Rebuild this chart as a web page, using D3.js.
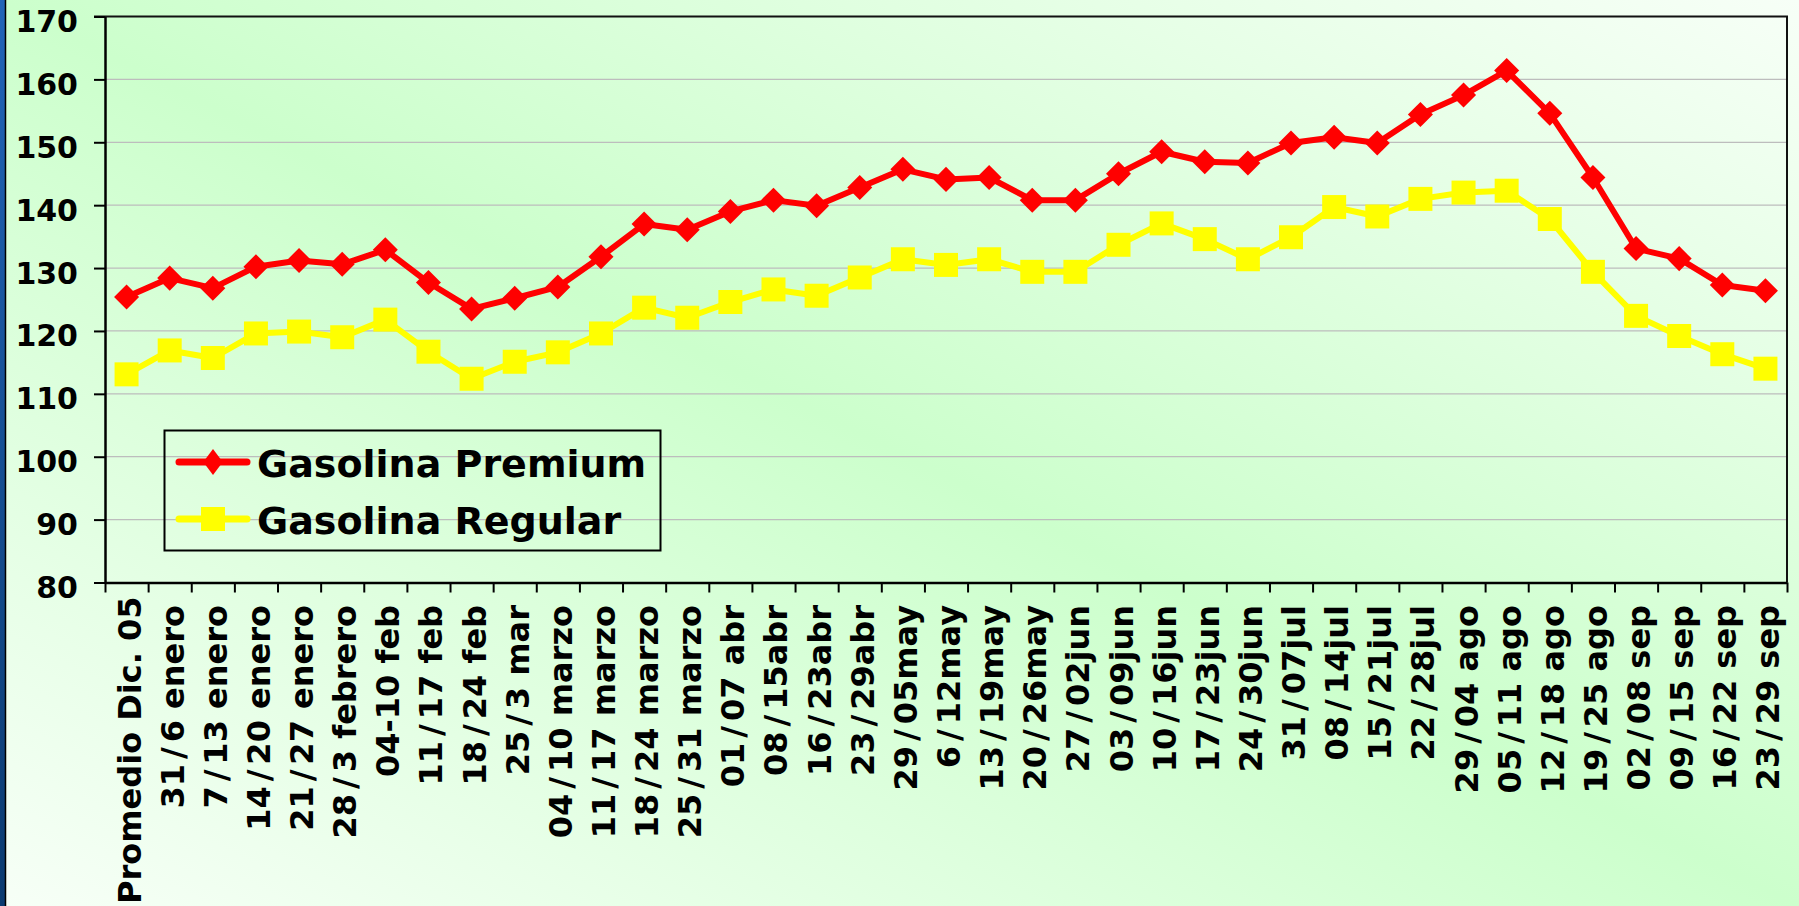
<!DOCTYPE html>
<html>
<head>
<meta charset="utf-8">
<script src="https://cdn.jsdelivr.net/npm/d3@7"></script>
<style>
body { margin: 0; background: #fff; overflow: hidden; }
svg text { font-family: "DejaVu Sans", Verdana, sans-serif; font-weight: bold; fill: #000; }
</style>
</head>
<body>
<div id="chart"></div>
<script>
// ---------- data ----------
var weeks = ["Promedio Dic. 05", "31/6 enero", "7/13 enero", "14/20 enero", "21/27 enero",
    "28/3 febrero", "04-10 feb", "11/17 feb", "18/24 feb", "25/3 mar", "04/10 marzo",
    "11/17 marzo", "18/24 marzo", "25/31 marzo", "01/07 abr", "08/15abr", "16/23abr",
    "23/29abr", "29/05may", "6/12may", "13/19may", "20/26may", "27/02jun", "03/09jun",
    "10/16jun", "17/23jun", "24/30jun", "31/07jul", "08/14jul", "15/21jul", "22/28jul",
    "29/04 ago", "05/11 ago", "12/18 ago", "19/25 ago", "02/08 sep", "09/15 sep",
    "16/22 sep", "23/29 sep"];

var premium = [125.4, 128.4, 126.8, 130.2, 131.2, 130.6, 132.9, 127.7, 123.5, 125.2,
    127.0, 131.8, 137.0, 136.1, 139.0, 140.8, 139.9, 142.8, 145.7, 144.1, 144.4, 140.8,
    140.8, 145.0, 148.5, 146.9, 146.7, 149.9, 150.8, 149.9, 154.4, 157.5, 161.4, 154.6,
    144.4, 133.1, 131.5, 127.3, 126.4];

var regular = [113.1, 116.9, 115.7, 119.6, 119.9, 119.0, 121.8, 116.7, 112.4, 115.1,
    116.6, 119.6, 123.7, 122.1, 124.6, 126.6, 125.6, 128.5, 131.4, 130.5, 131.4, 129.4,
    129.4, 133.7, 137.1, 134.6, 131.4, 134.9, 139.7, 138.2, 141.0, 142.0, 142.3, 137.8,
    129.4, 122.4, 119.2, 116.3, 114.0];

var yTicks = [80, 90, 100, 110, 120, 130, 140, 150, 160, 170];
var seriesNames = ["Gasolina Premium", "Gasolina Regular"];

// ---------- layout ----------
var width = 1799,
    height = 906,
    margin = {top: 16.5, right: 12, bottom: 323.5, left: 105};

var svg = d3.select("#chart").append("svg")
    .attr("width", width)
    .attr("height", height);

var defs = svg.append("defs");

// green / white diagonal background
var bg = defs.append("linearGradient")
    .attr("id", "bg")
    .attr("x1", 0).attr("y1", 1).attr("x2", 1).attr("y2", 0);
bg.append("stop").attr("offset", 0).attr("stop-color", "#f7fff7");
bg.append("stop").attr("offset", 0.5).attr("stop-color", "#ccffcc");
bg.append("stop").attr("offset", 1).attr("stop-color", "#f7fff7");

var strip = defs.append("linearGradient")
    .attr("id", "strip")
    .attr("x1", 0).attr("y1", 0).attr("x2", 0).attr("y2", 1);
strip.append("stop").attr("offset", 0).attr("stop-color", "#2164b8");
strip.append("stop").attr("offset", 1).attr("stop-color", "#0b3a70");

svg.append("rect")
    .attr("width", width)
    .attr("height", height)
    .style("fill", "url(#bg)");

// blue edge on the left
svg.append("rect")
    .attr("x", 0).attr("y", 0)
    .attr("width", 5).attr("height", height)
    .style("fill", "url(#strip)");
svg.append("line")
    .attr("x1", 5.5).attr("x2", 5.5)
    .attr("y1", 0).attr("y2", height)
    .style("stroke", "#000")
    .style("stroke-width", 1.5);

var x = d3.scaleBand()
    .domain(weeks)
    .range([margin.left, width - margin.right])
    .padding(0);

var y = d3.scaleLinear()
    .domain([80, 170])
    .range([height - margin.bottom, margin.top]);

// tick positions between categories
var xEdges = d3.scaleLinear()
    .domain([0, weeks.length])
    .range(x.range());

// gridlines
svg.append("g")
    .selectAll("line")
    .data(yTicks.slice(1, -1))
    .enter()
    .append("line")
    .attr("x1", margin.left)
    .attr("x2", width - margin.right)
    .attr("y1", function(d) { return y(d); })
    .attr("y2", function(d) { return y(d); })
    .style("stroke", "#bdbdbd")
    .style("stroke-width", 1.3);

// frame top + right
svg.append("path")
    .attr("d", "M" + (margin.left - 11) + "," + y(170) + "H" + (width - margin.right) + "V" + y(80))
    .style("fill", "none")
    .style("stroke", "#111")
    .style("stroke-width", 2);

// y axis
var yAxis = svg.append("g")
    .attr("transform", "translate(" + margin.left + ",0)")
    .call(d3.axisLeft(y).tickValues(yTicks).tickSize(11).tickSizeOuter(0).tickPadding(16));
yAxis.select(".domain").style("stroke", "#000").style("stroke-width", 2.5);
yAxis.selectAll(".tick line").style("stroke", "#000").style("stroke-width", 2);
yAxis.selectAll("text")
    .attr("dy", "0.5em")
    .style("font-size", "30px")
    .style("font-family", "'DejaVu Sans', Verdana, sans-serif")
    .style("font-weight", "bold")
    .style("fill", "#000");

// x axis ticks on the category edges
var xTicks = svg.append("g")
    .attr("transform", "translate(0," + y(80) + ")")
    .call(d3.axisBottom(xEdges).tickValues(d3.range(weeks.length + 1)).tickSize(10).tickSizeOuter(0).tickFormat(""));
xTicks.select(".domain").style("stroke", "#000").style("stroke-width", 2.5);
xTicks.selectAll(".tick line").style("stroke", "#000").style("stroke-width", 2);

// x axis labels, rotated
var labelTop = 605;
var xAxis = svg.append("g")
    .attr("transform", "translate(0," + y(80) + ")")
    .call(d3.axisBottom(x).tickSize(0).tickPadding(0));
xAxis.select(".domain").remove();
xAxis.selectAll("text")
    .attr("transform", "rotate(-90)")
    .attr("x", -(labelTop - y(80)))
    .attr("y", 14)
    .attr("dy", 0)
    .style("text-anchor", "end")
    .style("font-size", "32px")
    .style("font-family", "'DejaVu Sans', Verdana, sans-serif")
    .style("font-weight", "bold")
    .style("fill", "#000")
    .each(function() {
        var t = d3.select(this),
            label = t.text();
        // the original font has a much wider slash, pad it a little
        t.text(null);
        label.split("/").forEach(function(part, k) {
            if (k > 0) t.append("tspan").attr("dx", 5).text("/");
            t.append("tspan").attr("dx", k > 0 ? 5 : 0).text(part);
        });
        // push long labels up so they stay inside the picture
        var len = this.getComputedTextLength();
        var bottom = labelTop + len;
        if (bottom > height - 2) {
            t.attr("x", -(labelTop - (bottom - (height - 2)) - y(80)));
        }
    });

// ---------- series ----------
var cx = function(i) { return x(weeks[i]) + x.bandwidth() / 2; };

var line = d3.line()
    .x(function(d, i) { return cx(i); })
    .y(function(d) { return y(d); });

var series = [
    {name: seriesNames[0], values: premium, color: "#ff0000", size: 313, rot: 45},
    {name: seriesNames[1], values: regular, color: "#ffff00", size: 576, rot: 0}
];

series.forEach(function(s) {
    svg.append("path")
        .datum(s.values)
        .attr("d", line)
        .style("fill", "none")
        .style("stroke", s.color)
        .style("stroke-width", 6)
        .style("stroke-linejoin", "round");

    svg.append("g")
        .selectAll("path")
        .data(s.values)
        .enter()
        .append("path")
        .attr("d", d3.symbol().type(d3.symbolSquare).size(s.size))
        .attr("transform", function(d, i) {
            return "translate(" + cx(i) + "," + y(d) + ") rotate(" + s.rot + ")";
        })
        .style("fill", s.color);
});

// ---------- legend ----------
var legend = svg.append("g");
legend.append("rect")
    .attr("x", 164.5).attr("y", 430.5)
    .attr("width", 496).attr("height", 120)
    .style("fill", "none")
    .style("stroke", "#000")
    .style("stroke-width", 2);

var legendRows = [462, 519];
series.forEach(function(s, i) {
    var ly = legendRows[i];
    legend.append("line")
        .attr("x1", 179).attr("x2", 247)
        .attr("y1", ly).attr("y2", ly)
        .style("stroke", s.color)
        .style("stroke-width", 7)
        .style("stroke-linecap", "round");
    legend.append("path")
        .attr("d", d3.symbol().type(d3.symbolSquare).size(i === 0 ? 340 : 576)())
        .attr("transform", "translate(213," + ly + ")" + (i === 0 ? " scale(0.75,1) rotate(45)" : ""))
        .style("fill", s.color);
    legend.append("text")
        .attr("x", 257)
        .attr("y", ly + 15)
        .style("font-size", "38px")
        .text(s.name);
});
</script>
</body>
</html>
